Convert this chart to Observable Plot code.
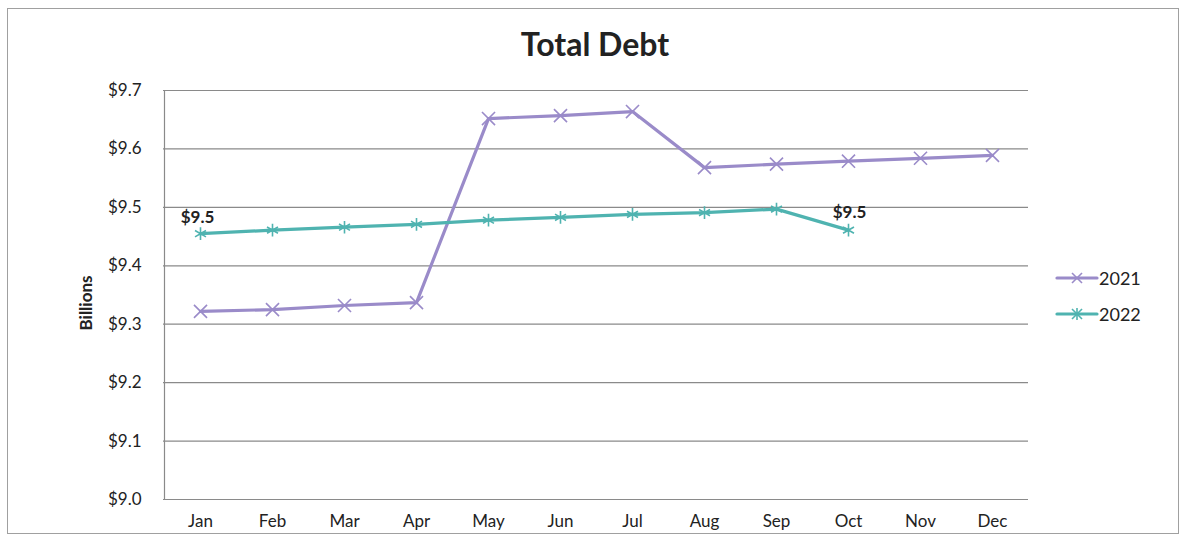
<!DOCTYPE html>
<html><head><meta charset="utf-8">
<script src="https://cdn.jsdelivr.net/npm/d3@7"></script>
<script src="https://cdn.jsdelivr.net/npm/@observablehq/plot@0.6"></script>
<style>
body{margin:0;background:#fff;font-family:Lato,"Open Sans",sans-serif;}
#wrap{position:relative;width:1187px;height:539px;}
#frame{position:absolute;left:7px;top:8px;width:1172px;height:526px;border:1.5px solid #a0a0a0;box-sizing:border-box;pointer-events:none;}
#title{position:absolute;left:0;width:1190px;top:24px;text-align:center;font-size:32px;font-weight:bold;color:#222;line-height:40px;}
#legend{position:absolute;left:1055px;top:267px;font-size:18px;color:#222;}
#legend svg{display:block;}
#chart{position:absolute;left:0;top:0;}
</style></head>
<body>
<div id="wrap">
<div id="chart"></div>
<div id="frame"></div>
<div id="title">Total Debt</div>
<div id="legend"></div>
</div>
<script>
const months = ["Jan","Feb","Mar","Apr","May","Jun","Jul","Aug","Sep","Oct","Nov","Dec"];
const values2021 = [9.322,9.325,9.332,9.337,9.652,9.657,9.664,9.568,9.574,9.579,9.584,9.589];
const values2022 = [9.455,9.461,9.466,9.471,9.478,9.483,9.488,9.491,9.497,9.461];
const yTicks = [9.0,9.1,9.2,9.3,9.4,9.5,9.6,9.7];
const seriesNames = ["2021","2022"];
const colors = ["#9a8bc9","#4fb3b0"];

const d21 = months.map((m,i)=>({month:m, value:values2021[i], series:"2021"}));
const d22 = values2022.map((v,i)=>({month:months[i], value:v, series:"2022"}));
const labFirst = [d22[0]];
const labLast = [d22[d22.length-1]];
const fmt = d=>"$"+d.toFixed(1);

const plot = Plot.plot({
  width:1187, height:539,
  marginLeft:163, marginRight:159, marginTop:90, marginBottom:40,
  style:{fontFamily:"Lato, 'Open Sans', sans-serif", fontSize:"17px", color:"#222", background:"transparent"},
  x:{type:"point", domain:months, padding:0.5, label:null},
  y:{domain:[9.0,9.7], label:null},
  marks:[
    Plot.gridY(yTicks,{stroke:"#8a8a8a", strokeOpacity:1, strokeWidth:1.2}),
    Plot.ruleX([months[0]],{stroke:"#8a8a8a", strokeWidth:1.2, dx:-36, y1:9.0, y2:9.7}),
    Plot.axisX({tickSize:0, tickPadding:15, fontSize:17}),
    Plot.axisY({ticks:yTicks, tickFormat:fmt, tickSize:0, tickPadding:22, fontSize:17}),
    Plot.line(d21,{x:"month", y:"value", stroke:colors[0], strokeWidth:3.2}),
    Plot.dot(d21,{x:"month", y:"value", symbol:"times", stroke:colors[0], strokeWidth:1.6, r:6}),
    Plot.line(d22,{x:"month", y:"value", stroke:colors[1], strokeWidth:3.2}),
    Plot.dot(d22,{x:"month", y:"value", symbol:"asterisk", stroke:colors[1], strokeWidth:1.6, r:6}),
    Plot.text(labFirst,{x:"month", y:"value", text:d=>fmt(d.value), dy:-16, dx:-3, fontWeight:"bold", fontSize:17, fill:"#222"}),
    Plot.text(labLast,{x:"month", y:"value", text:d=>fmt(d.value), dy:-18, dx:1, fontWeight:"bold", fontSize:17, fill:"#222"}),
    Plot.text(["Billions"],{frameAnchor:"left", textAnchor:"middle", dx:-77, dy:8, rotate:-90, fontWeight:"bold", fontSize:17, fill:"#222"})
  ]
});
document.getElementById("chart").appendChild(plot);

// legend
const lg = d3.select("#legend");
seriesNames.forEach((s,i)=>{
  const row = lg.append("div").style("display","flex").style("align-items","center").style("height","22px").style("margin-bottom", i===0?"14px":"0");
  const sv = row.append("svg").attr("width",44).attr("height",22);
  sv.append("line").attr("x1",2).attr("x2",42).attr("y1",11).attr("y2",11).attr("stroke",colors[i]).attr("stroke-width",3.2).attr("stroke-linecap","round");
  const g = sv.append("g").attr("transform","translate(22,11)").attr("stroke",colors[i]).attr("stroke-width",1.6);
  g.append("line").attr("x1",-5).attr("y1",-5).attr("x2",5).attr("y2",5);
  g.append("line").attr("x1",-5).attr("y1",5).attr("x2",5).attr("y2",-5);
  if(i===1) g.append("line").attr("x1",0).attr("y1",-6).attr("x2",0).attr("y2",6);
  row.append("span").text(s);
});
</script>
</body></html>
